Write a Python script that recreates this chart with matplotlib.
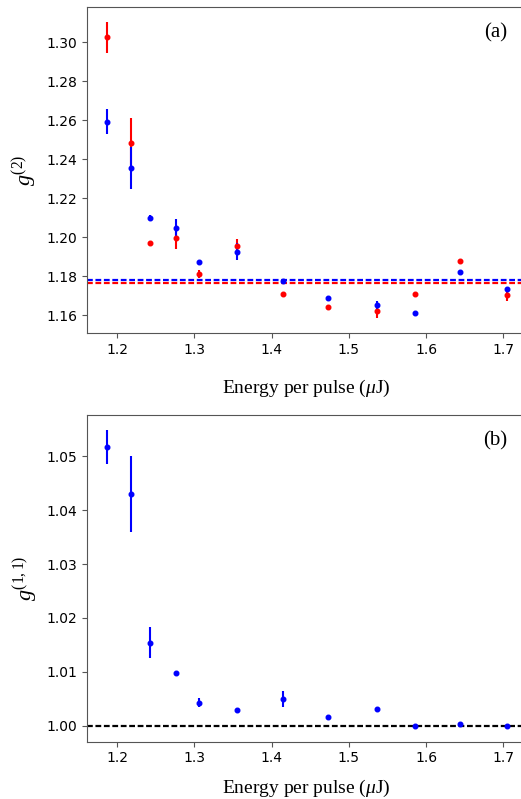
import numpy as np
import matplotlib
matplotlib.use('Agg')
import matplotlib.pyplot as plt

plt.rcParams['mathtext.fontset'] = 'custom'
plt.rcParams['mathtext.rm'] = 'Liberation Serif'
plt.rcParams['mathtext.it'] = 'Liberation Serif:italic'
plt.rcParams['mathtext.bf'] = 'Liberation Serif:bold'

# pulse energies (uJ)
energy = [1.1865, 1.2185, 1.2431, 1.2758, 1.3065, 1.3547,
          1.4142, 1.4733, 1.5364, 1.5859, 1.6440, 1.7045]

# g2, red set
g2_red = [1.3024, 1.2482, 1.1972, 1.1998, 1.1813, 1.1958,
          1.1710, 1.1641, 1.1622, 1.1710, 1.1878, 1.1703]
g2_red_err = [0.0081, 0.0130, 0.0005, 0.0057, 0.0019, 0.0036,
              0.0005, 0.0011, 0.0036, 0.0005, 0.0005, 0.0027]
g2_red_mean = 1.1765

# g2, blue set
g2_blue = [1.2593, 1.2355, 1.2099, 1.2046, 1.1873, 1.1927,
           1.1777, 1.1689, 1.1651, 1.1612, 1.1825, 1.1737]
g2_blue_err = [0.0065, 0.0106, 0.0015, 0.0048, 0.0005, 0.0045,
               0.0005, 0.0005, 0.0022, 0.0005, 0.0005, 0.0010]
g2_blue_mean = 1.1782

# g(1,1)
g11 = [1.0517, 1.0430, 1.0154, 1.0098, 1.0043, 1.0029,
       1.0050, 1.0016, 1.0031, 1.0000, 1.0004, 0.9999]
g11_err = [0.0032, 0.0071, 0.0029, 0.0001, 0.0008, 0.0001,
           0.0015, 0.0001, 0.0001, 0.0001, 0.0003, 0.0001]

serif = 'Liberation Serif'
spine_col = '#555555'

fig = plt.figure(figsize=(5.21, 7.99), dpi=100)
ax1 = fig.add_axes([0.1664, 0.5832, 0.8447, 0.4084])
ax2 = fig.add_axes([0.1664, 0.0717, 0.8447, 0.4089])

dash = (0, (2.6, 1.2))

ax1.errorbar(energy, g2_red, yerr=g2_red_err, fmt='o', color='r', ms=3.3, elinewidth=1.5)
ax1.errorbar(energy, g2_blue, yerr=g2_blue_err, fmt='o', color='b', ms=3.3, elinewidth=1.5)
ax1.axhline(g2_blue_mean, color='b', ls=dash, lw=1.6)
ax1.axhline(g2_red_mean, color='r', ls=dash, lw=1.6)
ax1.set_yticks(np.arange(1.16, 1.301, 0.02))
ax1.set_ylabel(r'$g^{(2)}$', fontsize=16)
ax1.set_xlabel(r'Energy per pulse ($\mu$J)', fontsize=14, family=serif, labelpad=15)
ax1.text(0.955, 0.92, '(a)', transform=ax1.transAxes, fontsize=15,
         family=serif, ha='right', va='center')

ax2.errorbar(energy, g11, yerr=g11_err, fmt='o', color='b', ms=3.3, elinewidth=1.5)
ax2.axhline(1.0, color='k', ls=dash, lw=1.6)
ax2.set_yticks(np.arange(1.00, 1.051, 0.01))
ax2.set_ylabel(r'$g^{(1,1)}$', fontsize=16)
ax2.set_xlabel(r'Energy per pulse ($\mu$J)', fontsize=14, family=serif, labelpad=9)
ax2.text(0.955, 0.92, '(b)', transform=ax2.transAxes, fontsize=15,
         family=serif, ha='right', va='center')

for ax in (ax1, ax2):
    ax.set_xticks([1.2, 1.3, 1.4, 1.5, 1.6, 1.7])
    ax.tick_params(labelsize=10, color=spine_col)
    ax.yaxis.set_major_formatter(plt.FormatStrFormatter('%.2f'))
    for s in ax.spines.values():
        s.set_color(spine_col)

fig.savefig('out.png', dpi=100)
